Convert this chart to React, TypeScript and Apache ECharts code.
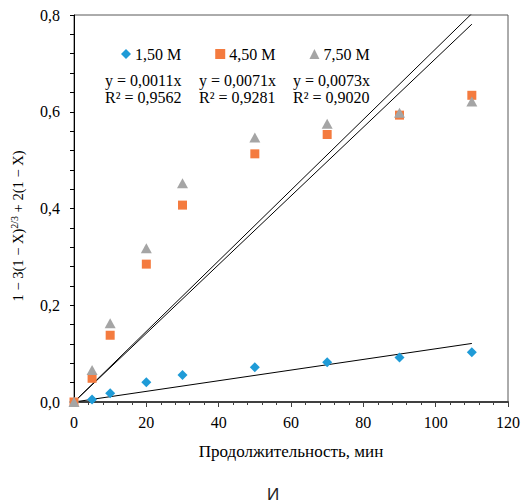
import React, { useEffect, useRef } from "react";
import * as echarts from "echarts";

const seriesNames = ["1,50 M", "4,50 M", "7,50 M"];
const times = [0, 5, 10, 20, 30, 50, 70, 90, 110];
const values15 = [0, 0.005, 0.018, 0.041, 0.056, 0.072, 0.082, 0.092, 0.103];
const values45 = [0, 0.049, 0.138, 0.285, 0.407, 0.513, 0.553, 0.593, 0.634];
const values75 = [0, 0.066, 0.163, 0.318, 0.452, 0.547, 0.575, 0.598, 0.621];
const slopes = [0.0011, 0.0071, 0.0073];
const r2 = [0.9562, 0.9281, 0.902];
const trendEnd = 110;
const colors = ["#1f9bd7", "#f47b3f", "#a5a5a5"];
const symbols = ["diamond", "rect", "triangle"];
const xTitle = "Продолжительность, мин";
const caption = "И";

const comma = (v: number, d: number) => v.toFixed(d).replace(".", ",");

export default function App() {
  const ref = useRef<HTMLDivElement>(null);
  useEffect(() => {
    if (!ref.current) return;
    const chart = echarts.init(ref.current, null, { renderer: "svg" });
    const font = "Liberation Serif";
    const allValues = [values15, values45, values75];
    const scatter = allValues.map((vals, i) => ({
      name: seriesNames[i],
      type: "scatter",
      symbol: symbols[i],
      symbolSize: i === 0 ? 10 : i === 1 ? 9 : [11, 10],
      itemStyle: { color: colors[i], opacity: 1 },
      data: times.map((t, j) => [t, vals[j]]),
      z: 3 + i,
    }));
    const trends = slopes.map((s, i) => ({
      name: "trend" + i,
      type: "line",
      showSymbol: false,
      symbol: "none",
      clip: true,
      lineStyle: { color: "#000", width: 1 },
      data: [
        [0, 0],
        [trendEnd, s * trendEnd],
      ],
      z: 2,
      silent: true,
    }));
    const eqX = [105, 199, 293];
    const eqTexts: any[] = [];
    slopes.forEach((s, i) => {
      eqTexts.push({
        type: "text",
        x: eqX[i],
        y: 80,
        style: {
          text: `y = ${comma(s, 4)}x`,
          font: `16px "${font}"`,
          fill: "#000",
          textAlign: "left",
          textVerticalAlign: "middle",
        },
      });
      eqTexts.push({
        type: "text",
        x: eqX[i],
        y: 97,
        style: {
          text: `R² = ${comma(r2[i], 4)}`,
          font: `16px "${font}"`,
          fill: "#000",
          textAlign: "left",
          textVerticalAlign: "middle",
        },
      });
    });
    chart.setOption({
      animation: false,
      backgroundColor: "#fff",
      grid: {
        left: 74,
        top: 15,
        width: 434,
        height: 387,
        show: true,
        borderColor: "#595959",
        borderWidth: 1,
      },
      legend: {
        data: seriesNames.map((n, i) => ({ name: n, icon: symbols[i] })),
        left: 116,
        top: 41,
        itemWidth: 10,
        itemHeight: 10,
        itemGap: 34,
        textStyle: { fontFamily: font, fontSize: 16, color: "#000", padding: [0, 0, 0, -1] },
      },
      xAxis: {
        type: "value",
        min: 0,
        max: 120,
        interval: 20,
        name: xTitle,
        nameLocation: "middle",
        nameGap: 41,
        nameTextStyle: { fontFamily: font, fontSize: 17, color: "#000" },
        axisLine: { show: true, onZero: false, lineStyle: { color: "#404040", width: 2 } },
        axisTick: { show: true, length: 5, lineStyle: { color: "#404040" } },
        minorTick: { show: true, splitNumber: 5, length: 3, lineStyle: { color: "#404040" } },
        splitLine: { show: false },
        axisLabel: { fontFamily: font, fontSize: 16, color: "#000", margin: 12 },
      },
      yAxis: {
        type: "value",
        min: 0,
        max: 0.8,
        interval: 0.2,
        axisLine: { show: true, onZero: false, lineStyle: { color: "#000", width: 1 } },
        axisTick: { show: true, length: 4, lineStyle: { color: "#000" } },
        minorTick: { show: true, splitNumber: 5, length: 4, lineStyle: { color: "#000" } },
        splitLine: { show: false },
        axisLabel: {
          fontFamily: font,
          fontSize: 16,
          color: "#000",
          margin: 14,
          formatter: (v: number) => comma(v, 1),
        },
      },
      graphic: [
        {
          type: "text",
          x: 18,
          y: 226,
          rotation: Math.PI / 2,
          style: {
            text: "{a|1 − 3(1 − X)}{s|2/3}{a| + 2(1 − X)}",
            rich: {
              a: { fontFamily: font, fontSize: 14.5, fill: "#000", lineHeight: 18 },
              s: { fontFamily: font, fontSize: 10, fill: "#000", lineHeight: 18, padding: [0, 0, 8, 0] },
            },
            textAlign: "center",
            textVerticalAlign: "middle",
          },
        },
        ...eqTexts,
        {
          type: "text",
          x: 273,
          y: 494,
          style: {
            text: caption,
            font: '17px "Liberation Sans"',
            fill: "#222",
            textAlign: "center",
            textVerticalAlign: "middle",
          },
        },
      ],
      series: [...trends, ...scatter],
    });
    return () => chart.dispose();
  }, []);
  return (
    <div
      ref={ref}
      style={{ position: "fixed", left: 0, top: 0, width: 526, height: 502 }}
    />
  );
}
